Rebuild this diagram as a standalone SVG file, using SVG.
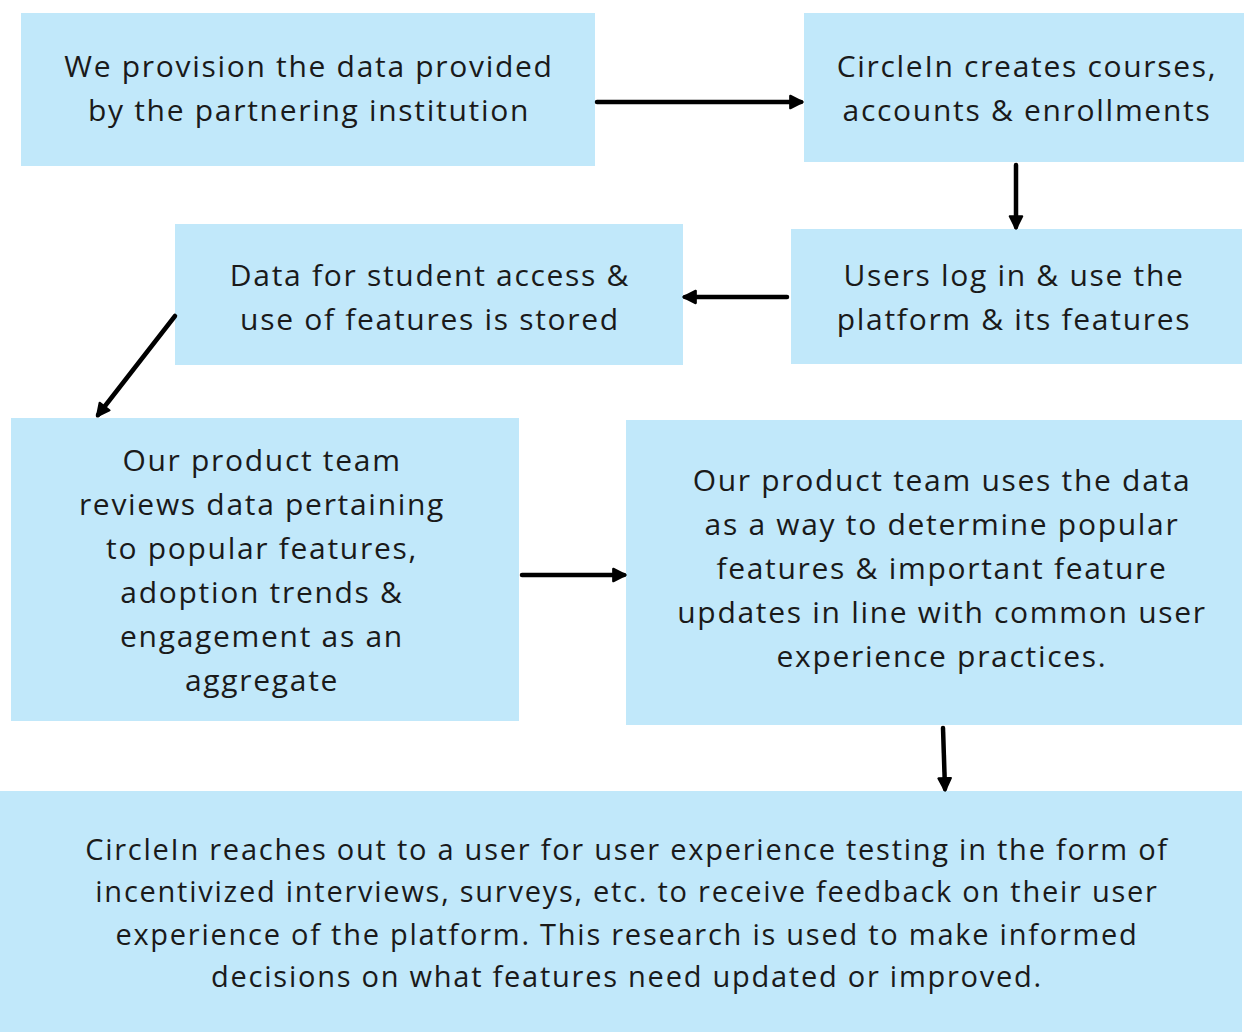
<svg xmlns="http://www.w3.org/2000/svg" width="1244" height="1032" viewBox="0 0 1244 1032">
<defs>
<style>
.box{fill:#c1e8fa;}
.t{font-family:"Open Sans","Liberation Sans",sans-serif;font-size:30px;fill:#1a1a1a;text-anchor:middle;letter-spacing:1.7px;}
.t7{font-size:29px;letter-spacing:1.75px;}
.c{stroke:#000;stroke-width:4.5;stroke-linecap:round;fill:none;}
</style>
<marker id="ah" viewBox="0 0 10 10" refX="8" refY="5" markerWidth="3.4" markerHeight="3.4" orient="auto" markerUnits="strokeWidth">
<path d="M1,1 L9,5 L1,9 Z" fill="#000" stroke="#000" stroke-width="1.5" stroke-linejoin="round"/>
</marker>
</defs>
<rect width="1244" height="1032" fill="#fff"/>
<g id="n1"><rect class="box" x="21" y="13" width="574" height="153"/>
<text class="t" x="309" y="77">We provision the data provided</text>
<text class="t" x="309" y="121">by the partnering institution</text></g>
<g id="n2"><rect class="box" x="804" y="13" width="440" height="149"/>
<text class="t" x="1027" y="77">CircleIn creates courses,</text>
<text class="t" x="1027" y="121">accounts &amp; enrollments</text></g>
<g id="n3"><rect class="box" x="175" y="224" width="508" height="141"/>
<text class="t" x="430" y="286">Data for student access &amp;</text>
<text class="t" x="430" y="330">use of features is stored</text></g>
<g id="n4"><rect class="box" x="791" y="229" width="451" height="135"/>
<text class="t" x="1014" y="286">Users log in &amp; use the</text>
<text class="t" x="1014" y="330">platform &amp; its features</text></g>
<g id="n5"><rect class="box" x="11" y="418" width="508" height="303"/>
<text class="t" x="262" y="471">Our product team</text>
<text class="t" x="262" y="515">reviews data pertaining</text>
<text class="t" x="262" y="559">to popular features,</text>
<text class="t" x="262" y="603">adoption trends &amp;</text>
<text class="t" x="262" y="647">engagement as an</text>
<text class="t" x="262" y="691">aggregate</text></g>
<g id="n6"><rect class="box" x="626" y="420" width="616" height="305"/>
<text class="t" x="942" y="491">Our product team uses the data</text>
<text class="t" x="942" y="535">as a way to determine popular</text>
<text class="t" x="942" y="579">features &amp; important feature</text>
<text class="t" x="942" y="623">updates in line with common user</text>
<text class="t" x="942" y="667">experience practices.</text></g>
<g id="n7"><rect class="box" x="0" y="791" width="1242" height="241"/>
<text class="t t7" x="627" y="860">CircleIn reaches out to a user for user experience testing in the form of</text>
<text class="t t7" x="627" y="902">incentivized interviews, surveys, etc. to receive feedback on their user</text>
<text class="t t7" x="627" y="945">experience of the platform. This research is used to make informed</text>
<text class="t t7" x="627" y="987">decisions on what features need updated or improved.</text></g>
<g id="connectors">
<line class="c" x1="597" y1="102" x2="801" y2="102" marker-end="url(#ah)"/>
<line class="c" x1="1016" y1="165" x2="1016" y2="227" marker-end="url(#ah)"/>
<line class="c" x1="787" y1="297" x2="685" y2="297" marker-end="url(#ah)"/>
<line class="c" x1="175" y1="316" x2="98" y2="415" marker-end="url(#ah)"/>
<line class="c" x1="522" y1="575" x2="624" y2="575" marker-end="url(#ah)"/>
<line class="c" x1="943" y1="728" x2="945" y2="789" marker-end="url(#ah)"/>
</g>
</svg>
